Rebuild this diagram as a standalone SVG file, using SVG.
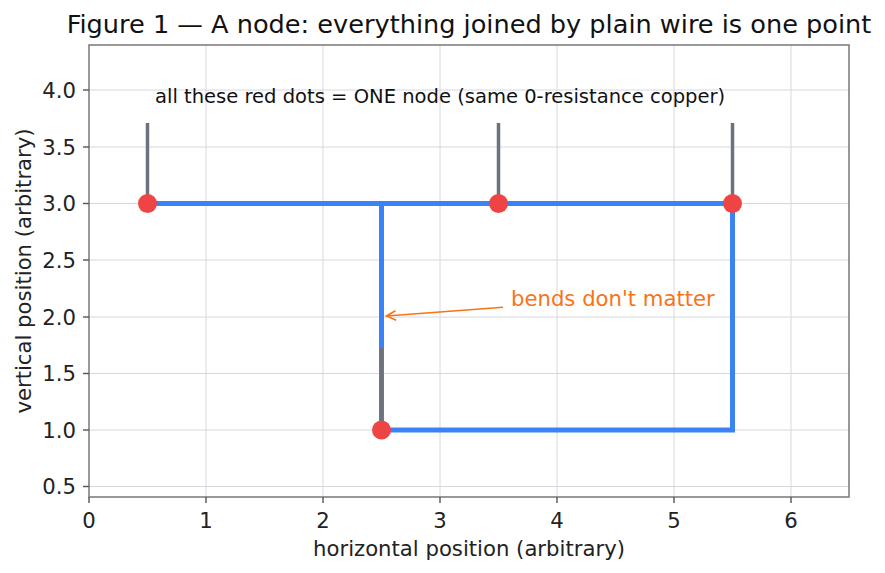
<svg xmlns="http://www.w3.org/2000/svg" width="885" height="573" viewBox="0 0 885 573">
<style>
text{font-family:"DejaVu Sans","Liberation Sans",sans-serif;fill:#222}
.grid{stroke:#d4d8de;stroke-width:1}
.spine{stroke:#808080;stroke-width:1.6;fill:none}
.tick{stroke:#555;stroke-width:1.4}
.tl{font-size:21.2px}
.wire{stroke:#3b82f6;stroke-width:5;fill:none;stroke-linecap:square}
.stub{stroke:#6b7280;stroke-width:3.5}
.dot{fill:#ef4444}
</style>
<rect width="885" height="573" fill="#fff"/>
<g id="grid">
<line class="grid" x1="206" y1="45" x2="206" y2="497"/>
<line class="grid" x1="323" y1="45" x2="323" y2="497"/>
<line class="grid" x1="440" y1="45" x2="440" y2="497"/>
<line class="grid" x1="557" y1="45" x2="557" y2="497"/>
<line class="grid" x1="674" y1="45" x2="674" y2="497"/>
<line class="grid" x1="791" y1="45" x2="791" y2="497"/>
<line class="grid" x1="89" y1="486.5" x2="849" y2="486.5"/>
<line class="grid" x1="89" y1="430" x2="849" y2="430"/>
<line class="grid" x1="89" y1="373.5" x2="849" y2="373.5"/>
<line class="grid" x1="89" y1="317" x2="849" y2="317"/>
<line class="grid" x1="89" y1="260" x2="849" y2="260"/>
<line class="grid" x1="89" y1="203.5" x2="849" y2="203.5"/>
<line class="grid" x1="89" y1="147" x2="849" y2="147"/>
<line class="grid" x1="89" y1="90" x2="849" y2="90"/>
</g>
<g id="connectors">
<path class="wire" d="M147.5 203.5 H732.5 V430 H381.5 V203.5"/>
<line class="stub" x1="147.5" y1="203.5" x2="147.5" y2="123"/>
<line class="stub" x1="498.5" y1="203.5" x2="498.5" y2="123"/>
<line class="stub" x1="732.5" y1="203.5" x2="732.5" y2="123"/>
<line class="stub" x1="381.5" y1="430" x2="381.5" y2="348"/>
<path d="M503 307.3 L386.5 316" stroke="#f97316" stroke-width="1.6" fill="none"/>
<path d="M395.5 310.8 L386.5 316 L396.2 320.3" stroke="#f97316" stroke-width="1.6" fill="none"/>
</g>
<g id="node-a"><circle class="dot" cx="147.5" cy="203.5" r="9.5"/></g>
<g id="node-b"><circle class="dot" cx="498.5" cy="203.5" r="9.5"/></g>
<g id="node-c"><circle class="dot" cx="732.5" cy="203.5" r="9.5"/></g>
<g id="node-d"><circle class="dot" cx="381.5" cy="430" r="9.5"/></g>
<g id="labels">
<text x="155" y="103" style="font-size:19.55px;fill:#111">all these red dots = ONE node (same 0-resistance copper)</text>
<text x="511" y="306" style="font-size:21.2px;fill:#f97316">bends don't matter</text>
</g>
<g id="axes">
<rect class="spine" x="89" y="45" width="760" height="452"/>
<g class="tick">
<line x1="89" y1="497" x2="89" y2="503"/>
<line x1="206" y1="497" x2="206" y2="503"/>
<line x1="323" y1="497" x2="323" y2="503"/>
<line x1="440" y1="497" x2="440" y2="503"/>
<line x1="557" y1="497" x2="557" y2="503"/>
<line x1="674" y1="497" x2="674" y2="503"/>
<line x1="791" y1="497" x2="791" y2="503"/>
<line x1="83" y1="486.5" x2="89" y2="486.5"/>
<line x1="83" y1="430" x2="89" y2="430"/>
<line x1="83" y1="373.5" x2="89" y2="373.5"/>
<line x1="83" y1="317" x2="89" y2="317"/>
<line x1="83" y1="260" x2="89" y2="260"/>
<line x1="83" y1="203.5" x2="89" y2="203.5"/>
<line x1="83" y1="147" x2="89" y2="147"/>
<line x1="83" y1="90" x2="89" y2="90"/>
</g>
<g class="tl" text-anchor="middle">
<text x="89" y="528">0</text>
<text x="206" y="528">1</text>
<text x="323" y="528">2</text>
<text x="440" y="528">3</text>
<text x="557" y="528">4</text>
<text x="674" y="528">5</text>
<text x="791" y="528">6</text>
</g>
<g class="tl" text-anchor="end">
<text x="76" y="494">0.5</text>
<text x="76" y="437.5">1.0</text>
<text x="76" y="381">1.5</text>
<text x="76" y="324.5">2.0</text>
<text x="76" y="267.5">2.5</text>
<text x="76" y="211">3.0</text>
<text x="76" y="154.5">3.5</text>
<text x="76" y="97.5">4.0</text>
</g>
<text x="469" y="556" text-anchor="middle" class="tl">horizontal position (arbitrary)</text>
<text transform="translate(31 271) rotate(-90)" text-anchor="middle" class="tl">vertical position (arbitrary)</text>
<text x="469" y="33" text-anchor="middle" style="font-size:25.6px;fill:#111">Figure 1 — A node: everything joined by plain wire is one point</text>
</g>
</svg>
